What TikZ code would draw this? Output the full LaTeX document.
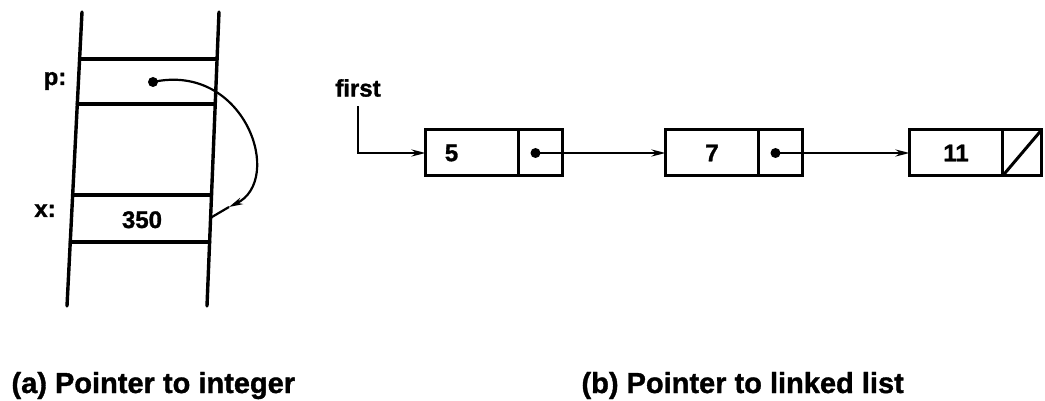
\documentclass[tikz,border=0pt]{standalone}
\usepackage{fontspec}
\setmainfont{Liberation Sans}[BoldFeatures={FakeBold=1.2}]
\usetikzlibrary{arrows.meta,positioning,calc}
\tikzset{
  holm/.style={line width=3.4pt,line cap=round},
  zelle/.style={draw,line width=3pt,outer sep=0pt,inner sep=0pt,minimum height=46pt},
  datum/.style={zelle,minimum width=93pt,font=\fontsize{24}{28}\selectfont\bfseries},
  zgr/.style={zelle,minimum width=44pt},
  zeiger/.style={-{Stealth[length=14pt,width=7pt]},line width=2.2pt},
  punkt/.style={circle,fill,inner sep=0pt,minimum size=10pt},
  wert/.style={font=\fontsize{24}{28}\selectfont\bfseries},
  titel/.style={font=\fontsize{29}{33}\selectfont\bfseries,anchor=base west},
}

\begin{document}
\begin{tikzpicture}[x=1pt,y=-1pt]
  \useasboundingbox (0,0) rectangle (1045,401);
  \coordinate (lo) at (82,12);
  \coordinate (lu) at (67,306);
  \coordinate (ro) at (219,12);
  \coordinate (ru) at (207,306);
  \draw[holm] (lo) -- (lu);
  \draw[holm] (ro) -- (ru);
  \foreach \f in {0.16,0.313,0.622,0.782}
    \draw[holm] ($(lo)!\f!(lu)$) -- ($(ro)!\f!(ru)$);
  \node[wert,anchor=base] (plabel) at (55,85) {p:};
  \node[wert,anchor=base] (xlabel) at (45,217) {x:};
  \node[wert,anchor=base] (xwert) at (142,228) {350};
  \node[punkt] (pdot) at (153,82) {};
  \coordinate (xcell) at ($(ro)!0.70!(ru)$);
  \coordinate (xspitze) at (229,207);
  \draw[zeiger] (pdot.center) .. controls (245,62) and (285,180) .. (xspitze);
  \draw[line width=2.2pt] (xspitze) -- (xcell);

  \node[datum] (d5) at (472,153) {};
  \node[wert] (t5) at ([xshift=26pt]d5.west) {5};
  \node[zgr,right=0pt of d5] (p5) {};
  \node[datum,right=103pt of p5] (d7) {7};
  \node[zgr,right=0pt of d7] (p7) {};
  \node[datum,right=107pt of p7] (d11) {11};
  \node[zgr,minimum width=39pt,right=0pt of d11] (p11) {};
  \node[punkt] (q5) at ([xshift=-5pt]p5.center) {};
  \node[punkt] (q7) at ([xshift=-5pt]p7.center) {};
  \draw[zeiger] (q5.center) -- (d7.west);
  \draw[zeiger] (q7.center) -- (d11.west);
  \draw[line width=3pt] (p11.south west) -- (p11.north east);
  \node[wert] (first) at (358,88) {first};
  \draw[zeiger,shorten <=6pt] (first.south) |- (d5.west);

  \node[titel] (capa) at (8,393) {(a) Pointer to integer};
  \node[titel] (capb) at (578,393) {(b) Pointer to linked list};
\end{tikzpicture}
\end{document}
